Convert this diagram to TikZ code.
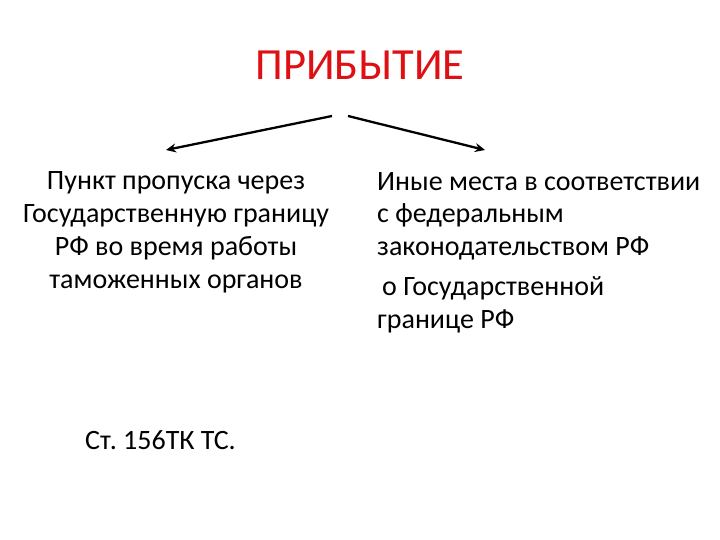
\documentclass[tikz,border=0pt]{standalone}
\usepackage{fontspec}
\setmainfont{Carlito}
\usetikzlibrary{arrows.meta}
\definecolor{titlered}{RGB}{222,16,20}
\tikzset{
  bodytext/.style={inner sep=0pt, font=\fontsize{28}{32.7}\selectfont\frenchspacing, text=black},
  titletext/.style={inner sep=0pt, font=\fontsize{44.5}{50}\selectfont, text=titlered},
  conn/.style={line width=2.3pt, -{Stealth[length=10pt,width=9pt]}}
}
\begin{document}
\begin{tikzpicture}[x=1pt,y=-1pt]
\useasboundingbox[fill=white] (0,0) rectangle (720,540);
\node[titletext, anchor=base] (title) at (360,80) {ПРИБЫТИЕ};
\coordinate (ls) at (332,116);
\coordinate (rs) at (348,116);
\node[bodytext, align=center, anchor=base] (left) at (176,288)
  {Пункт пропуска через\\Государственную границу\\РФ во время работы\\таможенных органов};
\node[bodytext, align=left, anchor=base west] (right) at (377,328)
  {Иные места в соответствии\\с федеральным\\законодательством РФ\\[7pt]\hspace{5pt}о Государственной\\границе РФ};
\node[bodytext, anchor=base west] (art) at (85,449) {Ст. 156ТК ТС.};
\coordinate (lt) at (166,150);
\coordinate (rt) at (485,150);
\draw[conn] (ls) -- (lt);
\draw[conn] (rs) -- (rt);
\end{tikzpicture}
\end{document}
